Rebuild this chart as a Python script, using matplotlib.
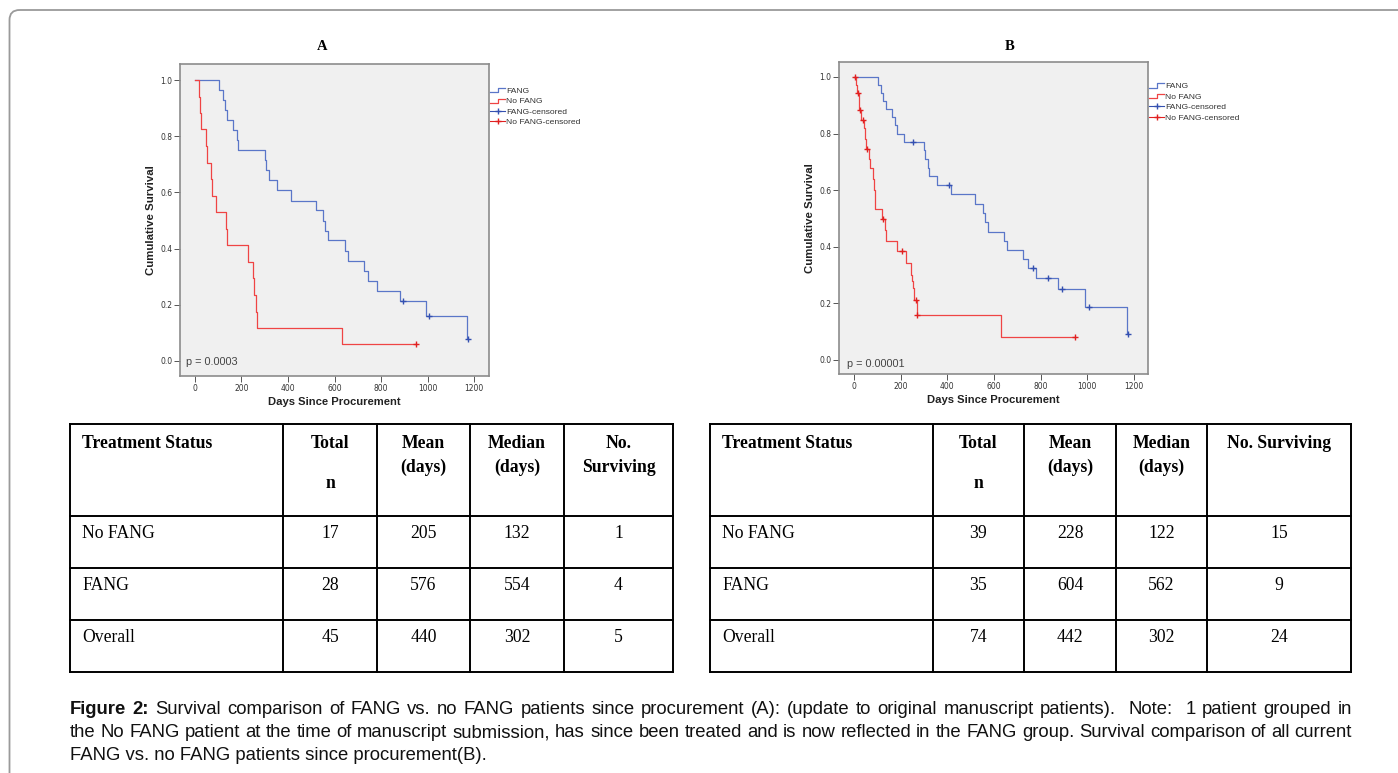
import numpy as np
import matplotlib
matplotlib.use("Agg")
import matplotlib.pyplot as plt
from matplotlib.lines import Line2D
from matplotlib.patches import FancyBboxPatch
from matplotlib.legend_handler import HandlerBase

# ---- survival curves (days, cumulative survival) ----
a_fang_t = [0, 103, 119, 129, 136, 165, 179, 183, 301, 305, 318, 351, 412, 520, 551, 560,
            573, 644, 659, 726, 745, 783, 881, 992, 1170, 1174]
a_fang_s = [1.0, .964, .929, .893, .857, .821, .786, .750, .714, .679, .643, .607, .571, .536,
            .500, .464, .429, .393, .357, .321, .286, .250, .214, .161, .080, .080]
a_fang_ct = [895, 1007, 1174]
a_fang_cs = [.214, .161, .080]

a_nofang_t = [0, 19, 21, 24, 47, 50, 67, 72, 90, 132, 139, 226, 251, 255, 261, 268, 633, 952]
a_nofang_s = [1.0, .941, .882, .824, .765, .706, .647, .588, .529, .471, .412, .353, .294,
              .235, .176, .118, .059, .059]
a_nofang_ct = [952]
a_nofang_cs = [.059]

b_fang_t = [0, 101, 116, 126, 136, 164, 176, 183, 216, 301, 304, 318, 321, 354, 414, 519, 551,
            563, 573, 643, 657, 723, 744, 779, 876, 990, 1169, 1173]
b_fang_s = [1.0, .971, .943, .914, .886, .857, .829, .800, .771, .741, .711, .680, .650, .618,
            .585, .552, .519, .486, .453, .420, .390, .357, .324, .290, .250, .187, .093, .093]
b_fang_ct = [254, 407, 766, 830, 893, 1006, 1173]
b_fang_cs = [.771, .618, .324, .290, .250, .187, .093]

b_nofang_t = [0, 10, 14, 22, 28, 44, 47, 50, 64, 69, 82, 85, 88, 120, 133, 137, 183, 223, 244,
              250, 254, 259, 271, 630, 947]
b_nofang_s = [1.0, .970, .943, .882, .849, .820, .780, .746, .710, .678, .640, .600, .533, .499,
              .460, .421, .384, .342, .300, .280, .255, .212, .159, .080, .080]
b_nofang_ct = [3, 16, 26, 40, 54, 126, 204, 266, 271, 947]
b_nofang_cs = [1.0, .943, .882, .849, .746, .499, .384, .212, .159, .080]

# ---- tables ----
tbl_header_a = [["Treatment Status"], ["Total", "", "n"], ["Mean", "(days)"], ["Median", "(days)"], ["No.", "Surviving"]]
tbl_header_b = [["Treatment Status"], ["Total", "", "n"], ["Mean", "(days)"], ["Median", "(days)"], ["No. Surviving"]]
tbl_groups = ["No FANG", "FANG", "Overall"]
tbl_a = [[17, 205, 132, 1], [28, 576, 554, 4], [45, 440, 302, 5]]
tbl_b = [[39, 228, 122, 15], [35, 604, 562, 9], [74, 442, 302, 24]]

caption_bold = "Figure 2:"
caption_1 = ("Survival comparison of FANG vs. no FANG patients since procurement (A): (update to original "
             "manuscript patients).  Note:  1 patient grouped in")
caption_2 = ("the No FANG patient at the time of manuscript submission, has since been treated and is now "
             "reflected in the FANG group. Survival comparison of all current")
caption_3 = "FANG vs. no FANG patients since procurement(B)."

W, H = 1398, 773
BLUE = "#5a76c8"
RED = "#ef4444"
BLUE_D = "#3450b0"
RED_D = "#e02020"


class StepHandler(HandlerBase):
    def create_artists(self, legend, orig_handle, xdescent, ydescent, width, height, fontsize, trans):
        x0, y0 = -xdescent, -ydescent
        xs = [x0, x0 + 0.5 * width, x0 + 0.5 * width, x0 + width]
        ys = [y0 + 0.1 * height, y0 + 0.1 * height, y0 + 0.8 * height, y0 + 0.8 * height]
        ln = Line2D(xs, ys, color=orig_handle.get_color(), lw=orig_handle.get_linewidth())
        ln.set_transform(trans)
        return [ln]


fig = plt.figure(figsize=(W / 100, H / 100), dpi=100)
bg = fig.add_axes([0, 0, 1, 1], zorder=0)
bg.set_xlim(0, W)
bg.set_ylim(H, 0)
bg.axis("off")

# outer frame with rounded top-left corner
bg.add_patch(FancyBboxPatch((9.5, 10), 1600, 1000, boxstyle="round,pad=0,rounding_size=10",
                            fill=False, ec="#9a9a9a", lw=1.3, clip_on=True))


def km_panel(rect, xlim, ylim, curves, ptext, pxy, legend_anchor):
    l, t, r, b = rect
    ax = fig.add_axes([l / W, 1 - b / H, (r - l) / W, (b - t) / H], zorder=2)
    ax.set_facecolor("#f0f0f0")
    for (tt, ss, ct, cs, c, cd) in curves:
        ax.step(tt, ss, where="post", color=c, lw=0.9)
        ax.plot(ct, cs, ls="none", marker="+", ms=5, mew=1.0, color=cd)
    ax.set_xlim(*xlim)
    ax.set_ylim(*ylim)
    ax.set_xticks(np.arange(0, 1201, 200))
    ax.set_yticks(np.arange(0, 1.01, 0.2))
    ax.set_yticklabels([f"{v:.1f}" for v in np.arange(0, 1.01, 0.2)])
    ax.tick_params(labelsize=5.5, length=4, width=0.7, color="#555555", labelcolor="#333333", pad=1.5)
    for sp in ax.spines.values():
        sp.set_color("#8c8c8c")
        sp.set_linewidth(1.2)
    ax.set_ylabel("Cumulative Survival", fontsize=8.2, fontweight="bold", family="Liberation Sans",
                  color="#222222", labelpad=3)
    ax.set_xlabel("Days Since Procurement", fontsize=8.1, fontweight="bold", family="Liberation Sans",
                  color="#222222", labelpad=3)
    ax.text(pxy[0], pxy[1], ptext, transform=ax.transAxes, fontsize=7.8, family="Liberation Sans",
            color="#444444", va="center", ha="left")
    h1 = Line2D([], [], color=BLUE, lw=0.9)
    h2 = Line2D([], [], color=RED, lw=0.9)
    h3 = Line2D([], [], color=BLUE_D, lw=0.8, marker="+", ms=5)
    h4 = Line2D([], [], color=RED_D, lw=0.8, marker="+", ms=5)
    leg = ax.legend([h1, h2, h3, h4], ["FANG", "No FANG", "FANG-censored", "No FANG-censored"],
                    handler_map={h1: StepHandler(), h2: StepHandler()},
                    loc="upper left", bbox_to_anchor=legend_anchor, frameon=False,
                    borderaxespad=0, borderpad=0, handlelength=1.8, handletextpad=0.1,
                    labelspacing=0.3, prop={"family": "Liberation Sans", "size": 6.1})
    for tx in leg.get_texts():
        tx.set_color("#333333")
    return ax


km_panel((180, 64, 489, 376), (-64.5, 1264.5), (-0.0534, 1.057),
         [(a_fang_t, a_fang_s, a_fang_ct, a_fang_cs, BLUE, BLUE_D),
          (a_nofang_t, a_nofang_s, a_nofang_ct, a_nofang_cs, RED, RED_D)],
         "p = 0.0003", (0.019, 0.045), (1.003, 0.926))
km_panel((839, 62, 1148, 374), (-64.3, 1260), (-0.0495, 1.053),
         [(b_fang_t, b_fang_s, b_fang_ct, b_fang_cs, BLUE, BLUE_D),
          (b_nofang_t, b_nofang_s, b_nofang_ct, b_nofang_cs, RED, RED_D)],
         "p = 0.00001", (0.026, 0.032), (1.003, 0.935))

bg.text(322, 47, "A", ha="center", va="center", fontsize=10.5, fontweight="bold", family="Liberation Serif")
bg.text(1010, 46, "B", ha="center", va="center", fontsize=10.5, fontweight="bold", family="Liberation Serif")

TFS = 12.7
line_off = [0, 24, 40]


def draw_table(cols, rows, header, data):
    lw = 1.4
    for x in cols:
        bg.plot([x, x], [rows[0], rows[-1]], color="black", lw=lw, solid_capstyle="projecting")
    for y in rows:
        bg.plot([cols[0], cols[-1]], [y, y], color="black", lw=lw, solid_capstyle="projecting")
    for j, lines in enumerate(header):
        for k, s in enumerate(lines):
            if not s:
                continue
            if j == 0:
                bg.text(cols[0] + 12, rows[0] + 19, s, ha="left", va="center", fontsize=TFS,
                        fontweight="bold", family="Liberation Serif")
            else:
                bg.text((cols[j] + cols[j + 1]) / 2, rows[0] + 19 + line_off[k], s, ha="center",
                        va="center", fontsize=TFS, fontweight="bold", family="Liberation Serif")
    for i, g in enumerate(tbl_groups):
        y = rows[i + 1] + 18
        bg.text(cols[0] + 12, y, g, ha="left", va="center", fontsize=TFS, family="Liberation Serif")
        for j, v in enumerate(data[i]):
            bg.text((cols[j + 1] + cols[j + 2]) / 2, y, str(v), ha="center", va="center",
                    fontsize=TFS, family="Liberation Serif")


draw_table([70, 283, 377, 470, 564, 673], [424, 516, 568, 620, 672], tbl_header_a, tbl_a)
draw_table([710, 933, 1024, 1116, 1207, 1351], [424, 516, 568, 620, 672], tbl_header_b, tbl_b)

# ---- caption, first two lines justified between x=70 and x=1352 ----
CFS = 13.3
renderer = fig.canvas.get_renderer()


def justified(y, parts, x0=70, x1=1352):
    words = []
    for s, wt in parts:
        for w in s.split(" "):
            words.append((w, wt))
    arts = []
    for w, wt in words:
        t = bg.text(0, y, w, fontsize=CFS, fontweight=wt, family="Liberation Sans",
                    color="#111111", va="baseline", ha="left")
        wd = t.get_window_extent(renderer).width if w else 0.0
        arts.append((t, wd))
    total = sum(wd for _, wd in arts)
    gap = (x1 - x0 - total) / (len(arts) - 1)
    x = x0
    for t, wd in arts:
        t.set_x(x)
        x += wd + gap


justified(714, [(caption_bold, "bold"), (caption_1, "normal")])
justified(737, [(caption_2, "normal")])
bg.text(70, 760, caption_3, fontsize=CFS, family="Liberation Sans", color="#111111",
        va="baseline", ha="left")

fig.savefig("out.png", dpi=100)
